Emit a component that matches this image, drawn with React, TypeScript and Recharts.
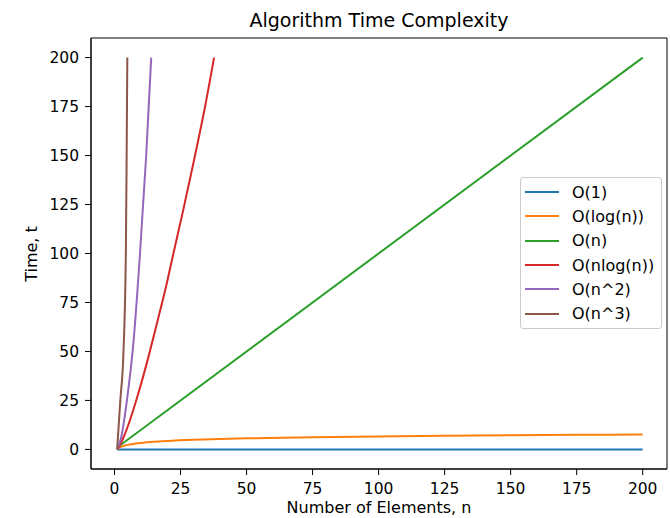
import { LineChart, Line, XAxis, YAxis, ReferenceArea } from 'recharts'

// sample points (n, time)
const N_CONST = [1, 200]
const T_CONST = [0, 0]

const N_LOG = [1, 1.5, 2, 3, 4, 5, 7, 10, 15, 20, 30, 40, 50, 75, 100, 125, 150, 175, 200]
const T_LOG = [0, 0.58, 1, 1.58, 2, 2.32, 2.81, 3.32, 3.91, 4.32, 4.91, 5.32, 5.64, 6.23, 6.64, 6.97, 7.23, 7.45, 7.64]

const N_LIN = [1, 200]
const T_LIN = [1, 200]

const N_NLOG = [1, 2, 4, 6, 9, 13, 16, 20, 22.3, 26, 30, 34, 37.7]
const T_NLOG = [0, 2, 8, 15.5, 28.5, 48, 64, 86, 100, 122, 147, 173, 200]

const N_SQ = [1, 2.5, 4.7, 7.2, 9.7, 12, 13.9]
const T_SQ = [0, 6, 25, 55, 101, 150, 200]

const N_CUBE = [1, 2.2, 3.4, 4.3, 4.6, 4.85]
const T_CUBE = [0, 25, 50, 101, 150, 200]

const X_TICKS = [0, 25, 50, 75, 100, 125, 150, 175, 200]
const Y_TICKS = [0, 25, 50, 75, 100, 125, 150, 175, 200]

const zip = (ns: number[], ts: number[]) => ns.map((n, i) => ({ n, t: ts[i] }))

const SERIES = [
  { name: 'O(1)', color: '#1f77b4', data: zip(N_CONST, T_CONST) },
  { name: 'O(log(n))', color: '#ff7f0e', data: zip(N_LOG, T_LOG) },
  { name: 'O(n)', color: '#2ca02c', data: zip(N_LIN, T_LIN) },
  { name: 'O(nlog(n))', color: '#d62728', data: zip(N_NLOG, T_NLOG) },
  { name: 'O(n^2)', color: '#9467bd', data: zip(N_SQ, T_SQ) },
  { name: 'O(n^3)', color: '#8c564b', data: zip(N_CUBE, T_CUBE) },
]

const X_DOMAIN: [number, number] = [-8.9, 209.2]
const Y_DOMAIN: [number, number] = [-10, 210]
const FONT = '"DejaVu Sans", sans-serif'

function XLabel() {
  return (
    <text x={379} y={513} textAnchor="middle" fontSize={16} fill="#000" fontFamily={FONT}>
      Number of Elements, n
    </text>
  )
}

function YLabel() {
  return (
    <text x={37} y={254} transform="rotate(-90, 37, 254)" textAnchor="middle" fontSize={16} fill="#000" fontFamily={FONT}>
      Time, t
    </text>
  )
}

export default function App() {
  return (
    <div style={{ position: 'absolute', left: 0, top: 0, width: 670, height: 518, background: '#fff', fontFamily: FONT }}>
      <LineChart width={670} height={518} margin={{ top: 38, right: 3, bottom: 0, left: 0 }}>
        <XAxis
          type="number"
          dataKey="n"
          domain={X_DOMAIN}
          ticks={X_TICKS}
          allowDataOverflow
          height={49}
          stroke="#000"
          tickSize={6}
          tickMargin={8}
          tick={{ fontSize: 15.5, fill: '#000', fontFamily: FONT }}
          label={<XLabel />}
        />
        <YAxis
          type="number"
          dataKey="t"
          domain={Y_DOMAIN}
          ticks={Y_TICKS}
          allowDataOverflow
          width={91}
          stroke="#000"
          tickSize={6}
          tickMargin={6}
          tick={{ fontSize: 15.5, fill: '#000', fontFamily: FONT }}
          label={<YLabel />}
        />
        <ReferenceArea x1={X_DOMAIN[0]} x2={X_DOMAIN[1]} y1={Y_DOMAIN[0]} y2={Y_DOMAIN[1]} fill="none" stroke="#000" strokeWidth={1} />
        {SERIES.map((s) => (
          <Line
            key={s.name}
            data={s.data}
            dataKey="t"
            type="monotone"
            stroke={s.color}
            strokeWidth={2}
            dot={false}
            activeDot={false}
            isAnimationActive={false}
          />
        ))}
      </LineChart>
      <div style={{ position: 'absolute', left: 91, width: 576, top: 9, lineHeight: '22px', textAlign: 'center', fontSize: 19, color: '#000' }}>
        Algorithm Time Complexity
      </div>
      <div
        style={{
          position: 'absolute', left: 520, top: 177, width: 142, height: 152, boxSizing: 'border-box',
          border: '1px solid #cccccc', borderRadius: 3, background: 'rgba(255,255,255,0.8)', paddingTop: 2,
        }}
      >
        {SERIES.map((s) => (
          <div key={s.name} style={{ display: 'flex', alignItems: 'center', height: 24.3, fontSize: 16, color: '#000' }}>
            <span style={{ display: 'inline-block', width: 34, height: 2, marginLeft: 4, background: s.color }} />
            <span style={{ marginLeft: 13, whiteSpace: 'nowrap' }}>{s.name}</span>
          </div>
        ))}
      </div>
    </div>
  )
}
